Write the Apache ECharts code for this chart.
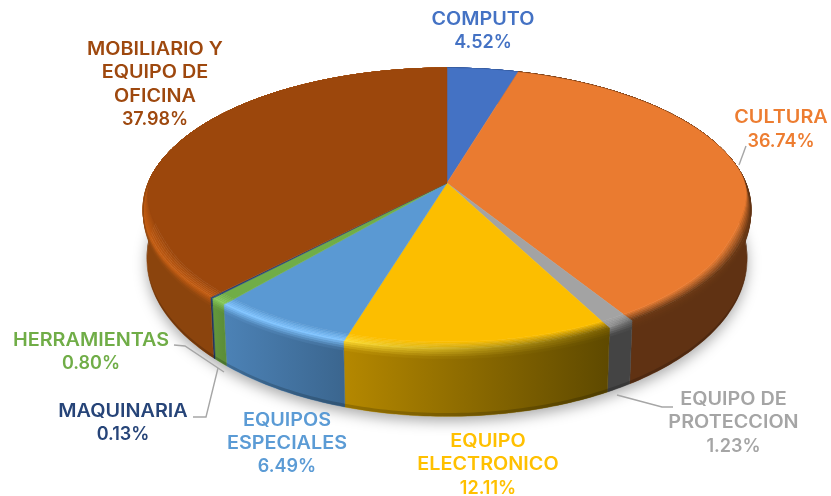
<!DOCTYPE html>
<html><head><meta charset="utf-8">
<style>html,body{margin:0;padding:0;background:#fff}#c{width:831px;height:496px}</style>
<script src="https://cdn.jsdelivr.net/npm/echarts@6/dist/echarts.min.js"></script>
</head><body><div id="c"></div>
<script>
// ---- data
const categories = ['COMPUTO','CULTURA','EQUIPO DE PROTECCION','EQUIPO ELECTRONICO','EQUIPOS ESPECIALES','HERRAMIENTAS','MAQUINARIA','MOBILIARIO Y EQUIPO DE OFICINA'];
const shares = [4.52,36.74,1.23,12.11,6.49,0.80,0.13,37.98];
const labelNames = ['COMPUTO','CULTURA','EQUIPO DE\nPROTECCION','EQUIPO\nELECTRONICO','EQUIPOS\nESPECIALES','HERRAMIENTAS','MAQUINARIA','MOBILIARIO Y\nEQUIPO DE\nOFICINA'];
// ---- styles
const topColors  = ['#4472C4','#EA7B30','#A3A3A3','#FCBE00','#5A99D3','#70AD47','#264478','#9C470C'];
const rimLeft    = ['#4472C4','#6a3814','#8f8f8f','#ffdc30','#80c4ff','#86c85a','#264478','#c25c12'];
const rimRight   = ['#4472C4','#6a3814','#6a6a6a','#7c6000','#80c4ff','#86c85a','#264478','#c25c12'];
const sideLeft   = ['#2a4a80','#603213','#444444','#b58800','#4c82b6','#64983c','#1c3560','#8b440d'];
const sideRight  = ['#2a4a80','#603213','#444444','#5e4900','#3b668f','#5c8e38','#1c3560','#8b440d'];
// ---- projection of the disc
const geo = {cx:447, topY:183, botY:230, topB:136.2, botB:152, A:298.8, k:0.1844, shrink:0.013, rimDepth:0.13, rimWidth:0.04};
function project(theta, r, h){
  const u = Math.sin(theta)*r, v = -Math.cos(theta)*r, w = 1/(1-geo.k*v);
  return [geo.cx + geo.A*u*w*(1-geo.shrink*h),
          geo.topY + (geo.botY-geo.topY)*h + (geo.topB+(geo.botB-geo.topB)*h)*v*w];
}
function bevelWidth(theta){
  const v = -Math.cos(theta), t = Math.max(0,Math.min(1,(v+0.1)/0.55));
  return geo.rimWidth*t*t*(3-2*t);
}
function bevelPoint(theta, s){
  const bw = bevelWidth(theta), fade = bw/geo.rimWidth;
  if (s < 0.6) return project(theta, 1-bw*(1-s/0.6), 0);
  return project(theta, 1, (s-0.6)/0.4*geo.rimDepth*fade);
}
function hex(c){return [1,3,5].map(i=>parseInt(c.slice(i,i+2),16));}
function mix(a,b,t){const A=hex(a),B=hex(b);return 'rgb('+A.map((x,i)=>Math.round(x+(B[i]-x)*t)).join(',')+')';}
function arcSteps(a,b){return Math.max(2,Math.ceil((b-a)/(Math.PI/180)));}
const total = shares.reduce((s,x)=>s+x,0);
const BEVEL_STRIPS = 10;
function grad(x0,x1,cl,cr){return new echarts.graphic.LinearGradient(x0,0,x1,0,[{offset:0,color:cl},{offset:1,color:cr}],true);}

function renderSlice(params, api){
  const i = params.dataIndex;
  let before = 0; for (let j=0;j<i;j++) before += shares[j];
  const a = before/total*2*Math.PI, b = a + api.value(0)/total*2*Math.PI, n = arcSteps(a,b);
  const thetas = []; for (let j=0;j<=n;j++) thetas.push(a+(b-a)*j/n);
  const children = [];
  const xs = thetas.map(t=>project(t,1,0)[0]);
  const x0 = Math.min(...xs), x1 = Math.max(...xs)+0.01;
  // side wall
  const sidePts = thetas.map(t=>project(t,1,0)).concat(thetas.slice().reverse().map(t=>project(t,1,1)));
  children.push({type:'polygon',z2:1,shape:{points:sidePts},
    style:{fill:grad(x0,x1,sideLeft[i],sideRight[i]),stroke:grad(x0,x1,sideLeft[i],sideRight[i]),lineWidth:0.5}});
  // darker foot of the wall
  const footPts = thetas.map(t=>project(t,1,0.95)).concat(thetas.slice().reverse().map(t=>project(t,1,1)));
  const footG = grad(x0,x1,mix(sideLeft[i],'#000000',0.18),mix(sideRight[i],'#000000',0.18));
  children.push({type:'polygon',z2:1.5,shape:{points:footPts},style:{fill:footG}});
  // bevel strips
  for (let s=0;s<BEVEL_STRIPS;s++){
    const s0=s/BEVEL_STRIPS, s1=(s+1)/BEVEL_STRIPS, sm=(s0+s1)/2;
    const pts = thetas.map(t=>bevelPoint(t,s0)).concat(thetas.slice().reverse().map(t=>bevelPoint(t,s1)));
    const f = (rim,side)=> sm<0.55 ? mix(topColors[i],rim,sm/0.55) : mix(rim,side,(sm-0.55)/0.45);
    const g = grad(x0,x1,f(rimLeft[i],sideLeft[i]),f(rimRight[i],sideRight[i]));
    children.push({type:'polygon',z2:2+s*0.01,shape:{points:pts},style:{fill:g,stroke:g,lineWidth:0.6}});
  }
  // flat top
  const topPts = [[geo.cx,geo.topY]].concat(thetas.map(t=>bevelPoint(t,0)));
  children.push({type:'polygon',z2:3,shape:{points:topPts},style:{fill:topColors[i],stroke:topColors[i],lineWidth:0.5}});
  return {type:'group',children};
}
function renderShadow(){
  const pts=[]; for(let d=0;d<360;d+=2) pts.push(project(d*Math.PI/180,1,1));
  return {type:'polygon',z2:0,shape:{points:pts},style:{fill:'#fff',shadowColor:'rgba(0,0,0,0.34)',shadowBlur:14,shadowOffsetY:5}};
}
// ---- label layout
const labelAnchor = [[483,31],[781,129.5],[733.5,423],[488,465],[287,443.5],[91,352],[123,423],[155,84.5]];
const LINE = 23.4;
const leaderLines = [
  {c:'#A6A6A6',p:[[746,146],[739,165]]},
  {c:'#A6A6A6',p:[[617,395],[662,407],[673,407]]},
  {c:'#A6A6A6',p:[[174,345],[185,346],[224,372]]},
  {c:'#A6A6A6',p:[[193,417],[206,417],[218,368]]}
];
const graphics = leaderLines.map(l=>({type:'polyline',z:5,shape:{points:l.p},style:{stroke:l.c,lineWidth:1.4,fill:null}}));
const labelColor = ['#4472C4','#ED7D31','#A5A5A5','#FFC000','#5B9BD5','#70AD47','#264478','#9E480E'];
categories.forEach((c,i)=>{
  const nLines = labelNames[i].split('\n').length;
  const yTop = labelAnchor[i][1] - (nLines+1)*LINE/2;
  graphics.push({type:'text',z:6,x:labelAnchor[i][0],y:yTop,scaleX:1.1,style:{
    text:labelNames[i],fill:labelColor[i],font:'600 18px Inter, sans-serif',align:'center',verticalAlign:'top',lineHeight:LINE}});
  graphics.push({type:'text',z:6,x:labelAnchor[i][0],y:yTop+nLines*LINE,style:{
    text:shares[i].toFixed(2)+'%',fill:labelColor[i],font:'600 18px Inter, sans-serif',align:'center',verticalAlign:'top',lineHeight:LINE}});
});
const chart = echarts.init(document.getElementById('c'),null,{renderer:'canvas'});
chart.setOption({
  animation:false,
  backgroundColor:'#ffffff',
  graphic:graphics,
  series:[
    {type:'custom',coordinateSystem:'none',silent:true,z:1,renderItem:renderShadow,data:[0]},
    {type:'custom',coordinateSystem:'none',silent:true,z:2,renderItem:renderSlice,
     data:shares.map((v,i)=>({name:categories[i],value:[v]}))}
  ]
});
</script></body></html>
